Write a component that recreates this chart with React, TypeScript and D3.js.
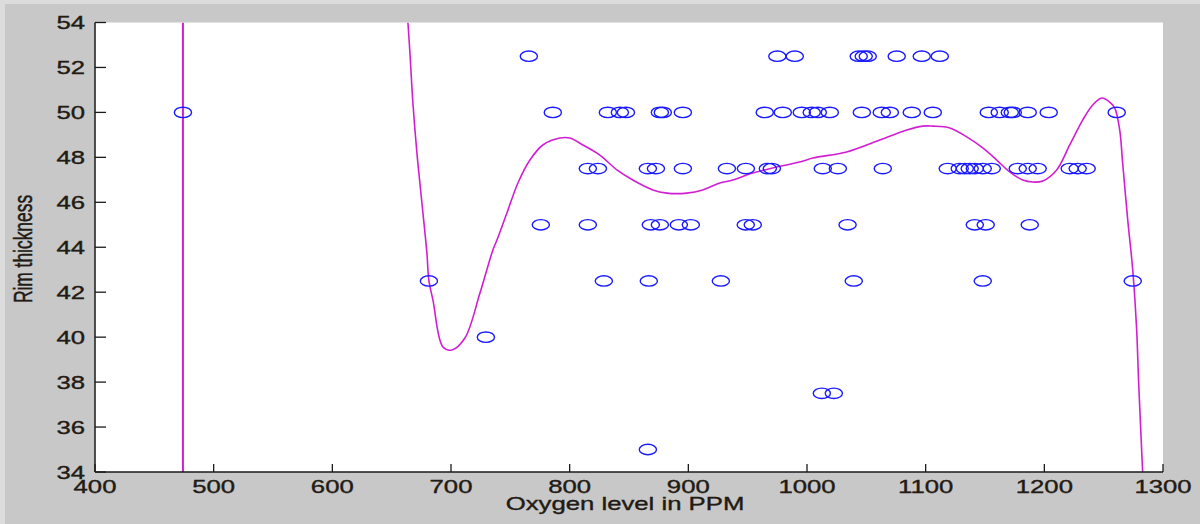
import React from "react";
import * as d3 from "d3";

// Scatter data: oxygen level (PPM) grouped by rim thickness level
const rimLevels = [52.5, 50, 47.5, 45, 42.5, 40, 37.5, 35];
const oxygenAt52_5 = [765.6, 975.0, 989.7, 1043.6, 1047.8, 1051.2, 1075.6, 1096.7, 1111.9];
const oxygenAt50 = [474.1, 785.8, 832.2, 842.3, 847.4, 876.0, 878.5, 895.4, 964.4, 979.6, 995.6, 1004.0, 1009.1, 1019.2, 1046.2, 1063.0, 1069.8, 1088.3, 1106.0, 1153.2, 1162.4, 1170.9, 1173.4, 1186.0, 1203.7, 1261.0];
const oxygenAt47_5 = [815.3, 823.8, 865.9, 872.7, 895.4, 932.5, 948.5, 967.0, 970.4, 1013.3, 1026.0, 1063.9, 1118.6, 1128.7, 1133.0, 1137.1, 1141.4, 1148.1, 1155.7, 1177.6, 1186.0, 1194.4, 1221.4, 1228.1, 1235.7];
const oxygenAt45 = [775.7, 815.3, 868.4, 876.0, 892.0, 902.1, 948.4, 954.3, 1034.2, 1141.4, 1150.6, 1187.7];
const oxygenAt42_5 = [681.4, 828.8, 866.7, 927.4, 1039.4, 1148.1, 1274.5];
const oxygenAt40 = [729.4];
const oxygenAt37_5 = [1012.5, 1022.6];
const oxygenAt35 = [865.9];
const oxygenByLevel = [oxygenAt52_5, oxygenAt50, oxygenAt47_5, oxygenAt45, oxygenAt42_5, oxygenAt40, oxygenAt37_5, oxygenAt35];

// Polynomial fit curve
const fitX = [663.7, 665.4, 667.9, 671.3, 675.5, 679.7, 681.4, 684.8, 693.2, 700.8, 711.7, 724.4, 735.3, 738.7, 747.1, 756.4, 766.5, 777.4, 791.7, 800.2, 811.1, 825.4, 839.8, 853.2, 870.1, 881.9, 898.7, 912.2, 926.5, 937.5, 954.3, 971.2, 993.9, 1004.9, 1033.5, 1061.3, 1084.1, 1097.6, 1106.0, 1120.3, 1134.6, 1148.1, 1159.9, 1170.8, 1181.8, 1190.2, 1198.7, 1210.4, 1221.4, 1232.3, 1240.8, 1248.4, 1255.1, 1259.3, 1263.5, 1266.0, 1270.3, 1274.5, 1277.8, 1279.5, 1282.9];
const fitY = [54.0, 52.64, 50.42, 48.19, 45.97, 43.74, 42.5, 41.65, 39.56, 39.43, 39.96, 41.96, 43.88, 44.32, 45.52, 46.86, 47.88, 48.55, 48.86, 48.86, 48.55, 48.10, 47.44, 46.99, 46.55, 46.41, 46.41, 46.55, 46.86, 46.99, 47.30, 47.53, 47.79, 47.97, 48.24, 48.77, 49.22, 49.39, 49.39, 49.31, 48.91, 48.42, 47.88, 47.35, 46.99, 46.90, 46.95, 47.44, 48.55, 49.66, 50.33, 50.64, 50.46, 50.20, 49.22, 47.75, 45.21, 42.99, 40.32, 37.96, 33.96];
const fitAsymptoteX = 474.1;

const xTicks = [400, 500, 600, 700, 800, 900, 1000, 1100, 1200, 1300];
const yTicks = [34, 36, 38, 40, 42, 44, 46, 48, 50, 52, 54];

const W = 1200;
const H = 524;
const STRETCH = 1.43;
const FONT = "'Liberation Sans', Arial, sans-serif";

export default function App() {
  const x = d3.scaleLinear().domain([400, 1300]).range([95, 1163]);
  const y = d3.scaleLinear().domain([34, 54]).range([472, 22.5]);

  const points: { ox: number; rim: number }[] = [];
  rimLevels.forEach((rim, i) => {
    oxygenByLevel[i].forEach((ox) => points.push({ ox, rim }));
  });

  const fitData = fitX.map((v, i) => [v, fitY[i]] as [number, number]);
  const line = d3
    .line<[number, number]>()
    .x((d) => x(d[0]))
    .y((d) => y(d[1]))
    .curve(d3.curveCatmullRom.alpha(0.5));

  const [x0, x1] = x.range();
  const [yb, yt] = y.range();

  const textProps = {
    fontFamily: FONT,
    fill: "#221a14",
    stroke: "#221a14",
    strokeWidth: 0.35,
  };

  return (
    <svg
      width={W}
      height={H}
      style={{ position: "absolute", left: 0, top: 0, display: "block" }}
    >
      <defs>
        <clipPath id="plotClip">
          <rect x={x0} y={yt} width={x1 - x0} height={yb - yt} />
        </clipPath>
      </defs>
      <rect x={0} y={0} width={W} height={H} fill="#dcdcdc" />
      <rect x={5} y={4} width={W - 5} height={H - 4} fill="#c8c8c8" />
      <rect x={x0} y={yt} width={x1 - x0} height={yb - yt} fill="#ffffff" />

      <g clipPath="url(#plotClip)">
        <line
          x1={x(fitAsymptoteX)}
          x2={x(fitAsymptoteX)}
          y1={y(34)}
          y2={y(54)}
          stroke="#d21ed2"
          strokeWidth={2}
        />
        <path d={line(fitData) || ""} fill="none" stroke="#d21ed2" strokeWidth={1.6} />
        {points.map((p, i) => (
          <ellipse
            key={i}
            cx={x(p.ox)}
            cy={y(p.rim)}
            rx={8.6}
            ry={5.2}
            fill="none"
            stroke="#1a1aff"
            strokeWidth={1.4}
          />
        ))}
      </g>

      {/* axes */}
      <line x1={x0} x2={x0} y1={yt} y2={yb} stroke="#1a1a1a" strokeWidth={1.5} />
      <line x1={x0} x2={x1} y1={yb} y2={yb} stroke="#1a1a1a" strokeWidth={1.5} />
      {yTicks.map((t) => (
        <g key={"y" + t}>
          <line x1={x0} x2={x0 + 11} y1={y(t)} y2={y(t)} stroke="#1a1a1a" strokeWidth={1.3} />
          <text
            transform={`translate(${x0 - 10},${y(t) + 6.5}) scale(${STRETCH},1)`}
            textAnchor="end"
            fontSize={18}
            {...textProps}
          >
            {t}
          </text>
        </g>
      ))}
      {xTicks.map((t) => (
        <g key={"x" + t}>
          <line x1={x(t)} x2={x(t)} y1={yb} y2={yb - 8} stroke="#1a1a1a" strokeWidth={1.3} />
          <text
            transform={`translate(${x(t)},${yb + 21}) scale(${STRETCH},1)`}
            textAnchor="middle"
            fontSize={18}
            {...textProps}
          >
            {t}
          </text>
        </g>
      ))}
      <text
        transform={`translate(${(x0 + x1) / 2 - 4},${510}) scale(${STRETCH},1)`}
        textAnchor="middle"
        fontSize={18}
        {...textProps}
      >
        Oxygen level in PPM
      </text>
      <text
        transform={`translate(32,${249}) scale(${STRETCH},1) rotate(-90)`}
        textAnchor="middle"
        fontSize={17.4}
        {...textProps}
      >
        Rim thickness
      </text>
    </svg>
  );
}
